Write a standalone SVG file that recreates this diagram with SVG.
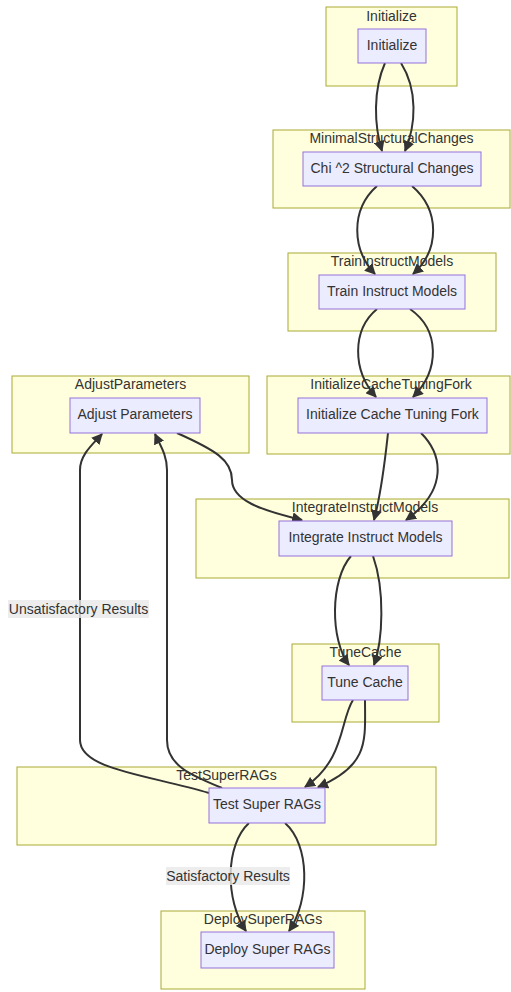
<svg xmlns="http://www.w3.org/2000/svg" width="511" height="992" viewBox="0 0 511 992">
<defs>
<style>
.cl{fill:#ffffde;stroke:#aaaa33;stroke-width:1}
.nd{fill:#ececff;stroke:#9370db;stroke-width:1}
text{font-family:"Liberation Sans",Arial,sans-serif;fill:#333;font-size:14px;text-anchor:middle}
.e{fill:none;stroke:#333;stroke-width:2}
.lb{fill:#e8e8e8;opacity:0.8}
</style>
<marker id="ah" viewBox="0 0 10 10" refX="9" refY="5" markerWidth="11" markerHeight="11" markerUnits="userSpaceOnUse" orient="auto">
<path d="M0,0 L10,5 L0,10 z" fill="#333"/>
</marker>
</defs>
<rect width="511" height="992" fill="#fff"/>
<g id="c-Initialize"><rect class="cl" x="326" y="7" width="131" height="79"/><text x="391.5" y="21">Initialize</text></g>
<g id="c-Minimal"><rect class="cl" x="273" y="130" width="237" height="78"/><text x="391.5" y="143">MinimalStructuralChanges</text></g>
<g id="c-Train"><rect class="cl" x="288" y="253" width="208" height="78"/><text x="392" y="266">TrainInstructModels</text></g>
<g id="c-InitCache"><rect class="cl" x="267" y="376" width="243" height="78"/><text x="391" y="389">InitializeCacheTuningFork</text></g>
<g id="c-Adjust"><rect class="cl" x="12" y="376" width="237" height="77"/><text x="130.5" y="389">AdjustParameters</text></g>
<g id="c-Integrate"><rect class="cl" x="196" y="499" width="313" height="79"/><text x="365" y="512">IntegrateInstructModels</text></g>
<g id="c-Tune"><rect class="cl" x="292" y="644" width="147" height="78"/><text x="365.5" y="657">TuneCache</text></g>
<g id="c-Test"><rect class="cl" x="17" y="767" width="419" height="78"/><text x="226.5" y="780">TestSuperRAGs</text></g>
<g id="c-Deploy"><rect class="cl" x="161" y="911" width="204" height="78"/><text x="263" y="924">DeploySuperRAGs</text></g>

<g id="edges">
<path class="e" marker-end="url(#ah)" d="M385,63 C373,90 374,125 382,151"/>
<path class="e" marker-end="url(#ah)" d="M401,63 C418,90 416,125 405,151"/>
<path class="e" marker-end="url(#ah)" d="M377,186 C350,210 352,250 375,274"/>
<path class="e" marker-end="url(#ah)" d="M412,186 C440,210 440,250 413,274"/>
<path class="e" marker-end="url(#ah)" d="M377,309 C352,330 352,370 376,397"/>
<path class="e" marker-end="url(#ah)" d="M410,309 C440,330 440,370 413,397"/>
<path class="e" marker-end="url(#ah)" d="M388,433 C385,460 382,490 374,520"/>
<path class="e" marker-end="url(#ah)" d="M421,433 C443,455 448,490 406,520"/>
<path class="e" marker-end="url(#ah)" d="M177,433 C215,450 232,460 232,480 C232,500 260,510 302,520"/>
<path class="e" marker-end="url(#ah)" d="M351,556 C330,580 330,640 349,665"/>
<path class="e" marker-end="url(#ah)" d="M373,556 C385,590 383,640 374,665"/>
<path class="e" marker-end="url(#ah)" d="M353,700 C340,720 345,760 305,787"/>
<path class="e" marker-end="url(#ah)" d="M365,700 C365,740 370,765 318,787"/>
<path class="e" marker-end="url(#ah)" d="M209,793 C150,775 80,770 80,740 L80,470 C80,455 92,445 102,434"/>
<path class="e" marker-end="url(#ah)" d="M222,788 C190,775 167,765 167,740 L167,470 C167,455 160,445 155,434"/>
<path class="e" marker-end="url(#ah)" d="M249,823 C225,845 225,900 246,931"/>
<path class="e" marker-end="url(#ah)" d="M285,823 C310,845 310,900 289,931"/>
<g id="lbl-unsat"><rect class="lb" x="8" y="600" width="141" height="18"/><text x="78.5" y="614">Unsatisfactory Results</text></g>
<g id="lbl-sat"><rect class="lb" x="166" y="867" width="124" height="18"/><text x="228" y="881">Satisfactory Results</text></g>
</g>

<g id="n-Initialize"><rect class="nd" x="358" y="29" width="68" height="34"/><text x="392" y="50">Initialize</text></g>
<g id="n-Chi"><rect class="nd" x="303" y="152" width="178" height="34"/><text x="392" y="173">Chi ^2 Structural Changes</text></g>
<g id="n-Train"><rect class="nd" x="319" y="275" width="146" height="34"/><text x="392" y="296">Train Instruct Models</text></g>
<g id="n-InitCache"><rect class="nd" x="298" y="398" width="189" height="35"/><text x="392.5" y="419">Initialize Cache Tuning Fork</text></g>
<g id="n-Adjust"><rect class="nd" x="70" y="398" width="130" height="35"/><text x="135" y="419">Adjust Parameters</text></g>
<g id="n-Integrate"><rect class="nd" x="279" y="521" width="173" height="35"/><text x="365.5" y="542">Integrate Instruct Models</text></g>
<g id="n-Tune"><rect class="nd" x="322" y="666" width="86" height="34"/><text x="365" y="687">Tune Cache</text></g>
<g id="n-Test"><rect class="nd" x="209" y="788" width="116" height="35"/><text x="267" y="809">Test Super RAGs</text></g>
<g id="n-Deploy"><rect class="nd" x="201" y="932" width="133" height="36"/><text x="267.5" y="954">Deploy Super RAGs</text></g>
</svg>
